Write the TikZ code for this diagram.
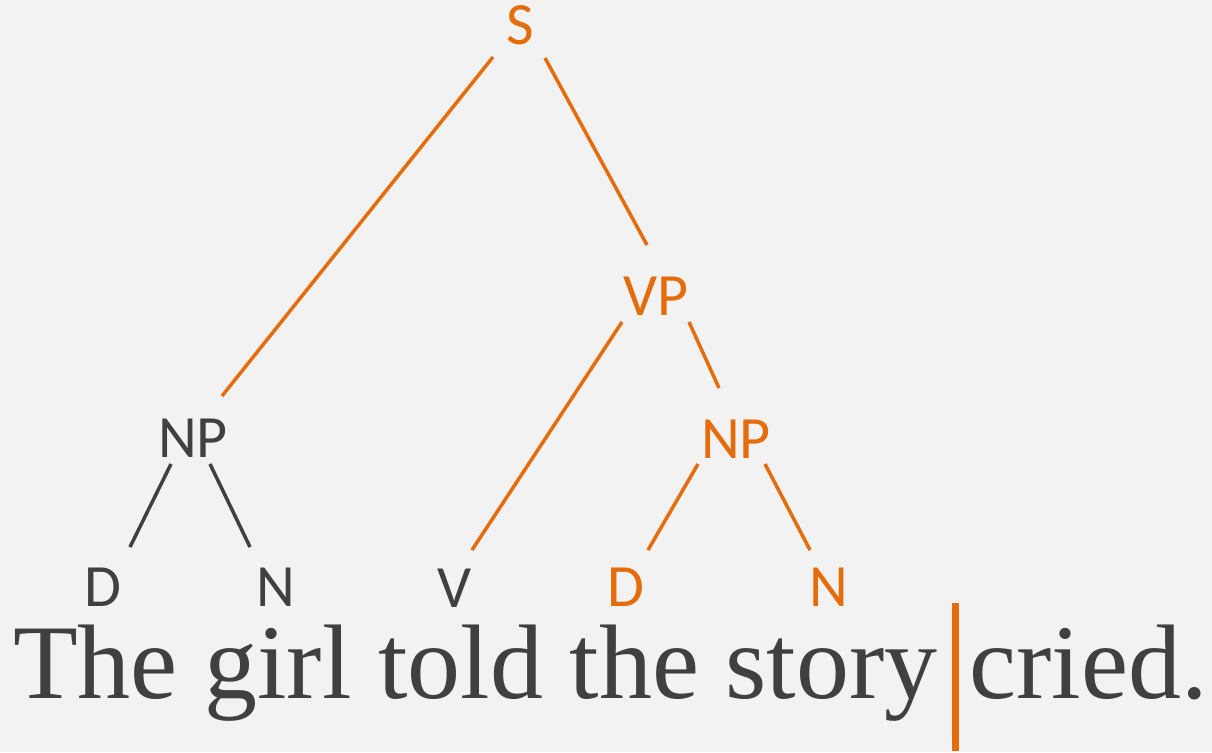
\documentclass[tikz,border=0pt]{standalone}
\usepackage{fontspec}
\setmainfont{Liberation Serif}
\setsansfont{Carlito}
\usepackage{tikz}
\definecolor{treeorange}{RGB}{228,108,10}
\definecolor{treegray}{RGB}{64,64,64}
\definecolor{slidebg}{RGB}{242,242,242}
\tikzset{
    cat/.style={inner sep=0pt,anchor=base,text=treegray,font=\sffamily\fontsize{60}{72}\selectfont},
    hot/.style={text=treeorange},
    branch/.style={line width=3.5pt,treegray},
    hotbranch/.style={line width=3.5pt,treeorange},
    words/.style={inner sep=0pt,anchor=base west,text=treegray,font=\rmfamily\fontsize{106}{120}\selectfont}
}

\begin{document}
\begin{tikzpicture}[x=1pt,y=-1pt]
                \fill[slidebg] (0,0) rectangle (1212,752);
                \useasboundingbox (0,0) rectangle (1212,752);
                % categories
                \node[cat,hot] (S) at (520,45) {S};
                \node[cat,hot] (VP) at (656,315) {VP};
                \node[cat] (NPl) at (193,457) {NP};
                \node[cat,hot] (NPr) at (736,458) {NP};
                \node[cat] (Dl) at (103,606) {D};
                \node[cat] (Nl) at (276,606) {N};
                \node[cat] (V) at (455,607) {V};
                \node[cat,hot] (Dr) at (626,606) {D};
                \node[cat,hot] (Nr) at (829,606) {N};
                % sentence
                \node[words] (sent) at (13,698) {The girl told the story};
                \node[words] (rest) at (969,698) {cried.};
                \node[fill=treeorange,inner sep=0pt,minimum width=7pt,minimum height=148pt] (cut) at (955.5,677) {};
                % branches
                \draw[hotbranch] ([shift={(-27,12)}]S.base) -- ([shift={(29,-61)}]NPl.base);
                \draw[hotbranch] ([shift={(25,13)}]S.base) -- ([shift={(-9,-70)}]VP.base);
                \draw[hotbranch] ([shift={(-34,7)}]VP.base) -- ([shift={(17,-57)}]V.base);
                \draw[hotbranch] ([shift={(33,7)}]VP.base) -- ([shift={(-17,-70)}]NPr.base);
                \draw[branch] ([shift={(-22,7)}]NPl.base) -- ([shift={(27,-59)}]Dl.base);
                \draw[branch] ([shift={(17,7)}]NPl.base) -- ([shift={(-26,-59)}]Nl.base);
                \draw[hotbranch] ([shift={(-38,6)}]NPr.base) -- ([shift={(22,-56)}]Dr.base);
                \draw[hotbranch] ([shift={(29,6)}]NPr.base) -- ([shift={(-19,-56)}]Nr.base);
\end{tikzpicture}
\end{document}
